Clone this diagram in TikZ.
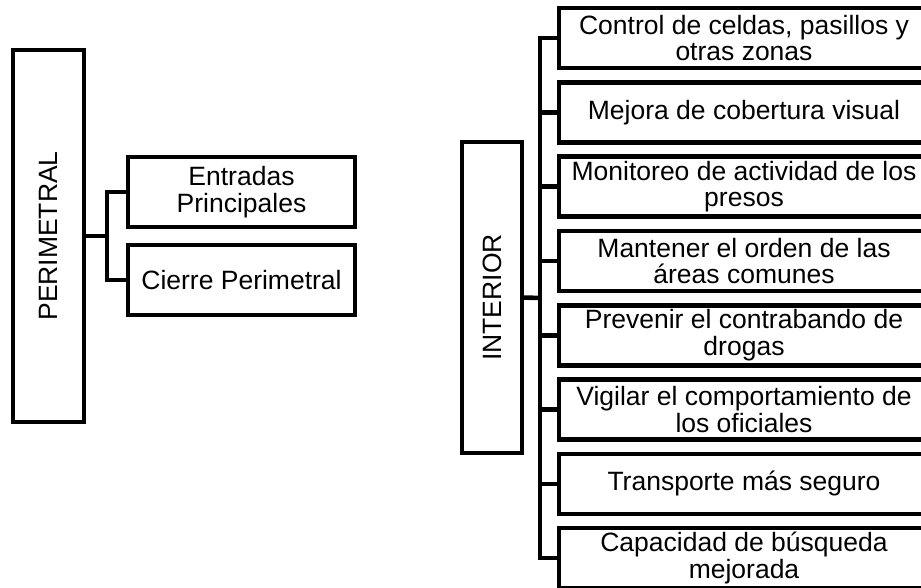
\documentclass[tikz,border=0pt]{standalone}
\usepackage{fontspec}
\setmainfont{Liberation Sans}
\usepackage{graphicx}
\usetikzlibrary{positioning}

\begin{document}
\begin{tikzpicture}[
        x=1pt, y=-1pt,
        line width=4.6pt,
        box/.style={draw, rectangle, align=center, inner sep=2pt, outer sep=0pt,
            font=\fontsize{26.5}{26.5}\selectfont},
        group/.style={box, minimum width=71pt, minimum height=372pt},
        sub/.style={box, minimum width=227pt, minimum height=70pt},
        item/.style={box, minimum width=370pt, minimum height=60pt},
        link/.style={line join=miter},
    ]
        \useasboundingbox (0,0) rectangle (921,588);
        \clip (0,0) rectangle (921,588);

        % perimetral
        \node[group] (perim) at (48.5,236) {\rotatebox{90}{PERIMETRAL}};
        \node[sub] (entradas) at (241.5,192) {Entradas\\Principales};
        \node[sub, below=18pt of entradas] (cierre) {Cierre Perimetral};
        \coordinate (pjoin) at (107,236);
        \draw[link] (perim.east) -- (pjoin);
        \draw[link] (entradas.west) -| (pjoin) |- (cierre.west);

        % interior
        \node[group, minimum width=60pt, minimum height=311pt] (inter) at (492,297.5)
            {\rotatebox{90}{INTERIOR}};
        \node[item] (celdas) at (744,38) {Control de celdas, pasillos y\\otras zonas};
        \node[item, below=14.3pt of celdas] (cobertura) {Mejora de cobertura visual};
        \node[item, below=14.3pt of cobertura] (presos) {Monitoreo de actividad de los\\presos};
        \node[item, below=14.3pt of presos] (orden) {Mantener el orden de las\\áreas comunes};
        \node[item, below=14.3pt of orden] (drogas) {Prevenir el contrabando de\\drogas};
        \node[item, below=14.3pt of drogas] (oficiales) {Vigilar el comportamiento de\\los oficiales};
        \node[item, below=14.3pt of oficiales] (transporte) {Transporte más seguro};
        \node[item, below=14.3pt of transporte] (busqueda) {Capacidad de búsqueda\\mejorada};
        \coordinate (ijoin) at (540,298);
        \draw[link] (inter.east) -- (ijoin);
        \draw[link] (celdas.west) -| (ijoin) |- (busqueda.west);
        \draw[link] (cobertura.west) -| (ijoin);
        \draw[link] (presos.west) -| (ijoin);
        \draw[link] (orden.west) -| (ijoin);
        \draw[link] (drogas.west) -| (ijoin);
        \draw[link] (oficiales.west) -| (ijoin);
        \draw[link] (transporte.west) -| (ijoin);
\end{tikzpicture}
\end{document}
